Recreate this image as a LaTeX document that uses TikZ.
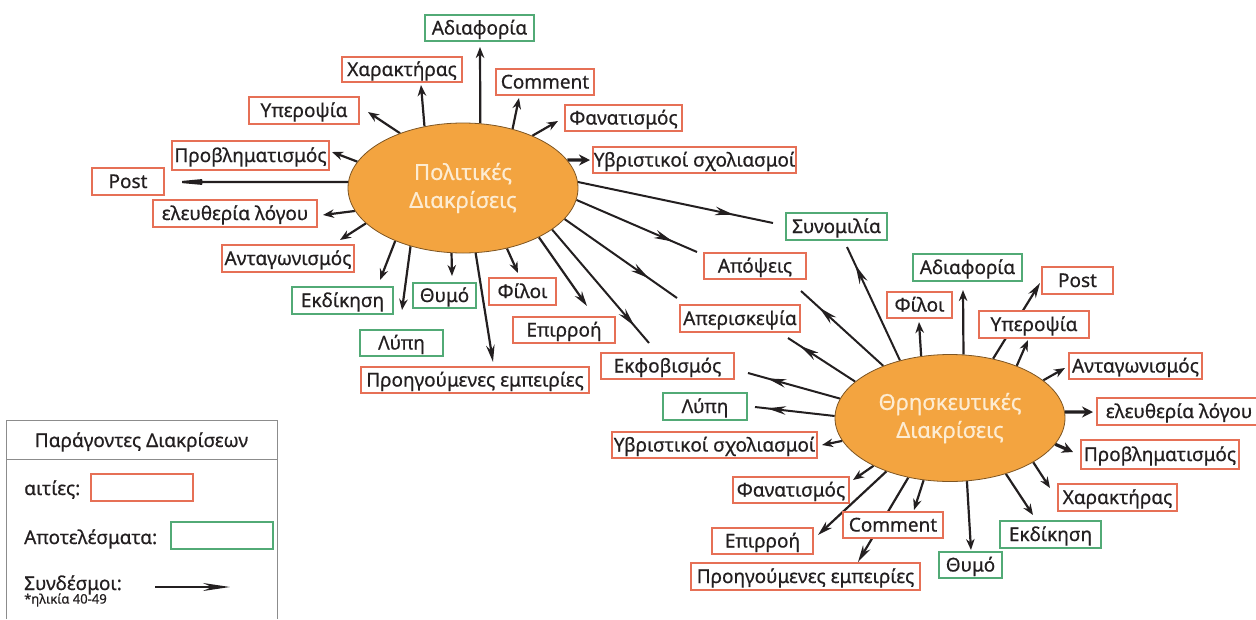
\documentclass[tikz,border=0pt]{standalone}
\usepackage{fontspec}
\setmainfont[FakeBold=0.6]{Noto Sans}
\usetikzlibrary{arrows.meta,shapes.geometric,decorations.markings}
\definecolor{boxred}{RGB}{230,112,86}
\definecolor{boxgreen}{RGB}{82,170,118}
\definecolor{blob}{RGB}{243,164,64}
\definecolor{blobline}{RGB}{125,85,35}
\definecolor{blobtext}{RGB}{253,236,210}
\definecolor{ink}{RGB}{35,31,32}
\definecolor{frame}{RGB}{140,140,140}
\pgfdeclarelayer{background}
\pgfsetlayers{background,main}
\tikzset{
  txt/.style={text=ink,inner sep=0pt,text height=16pt,text depth=3pt,font=\fontsize{19}{22}\selectfont},
  cause/.style={txt,draw=boxred,line width=1.2pt,fill=white},
  effect/.style={cause,draw=boxgreen},
  sz/.style 2 args={minimum width=#1pt,minimum height=#2pt},
  blobnode/.style={ellipse,draw=blobline,line width=0.8pt,fill=blob,text=blobtext,inner sep=0pt,
    minimum width=230pt,align=center,font=\fontsize{22}{28}\selectfont},
  link/.style={draw=ink,line width=2.2pt,-{Stealth[length=11pt,width=8.5pt]}},
  heavy/.style={draw=ink,line width=3.2pt,-{Stealth[length=11pt,width=11pt]}},
  longlink/.style={draw=ink,line width=2pt,postaction={decorate},
    decoration={markings,mark=at position #1 with {\arrow{Stealth[length=19pt,width=8.5pt]}}}},
}
\begin{document}
\begin{tikzpicture}[x=1pt,y=-1pt]
\useasboundingbox (0,0) rectangle (1256,619);

\node[blobnode,minimum height=130pt] (pol) at (463,188) {Πολιτικές\\Διακρίσεις};
\node[blobnode,minimum height=127pt] (rel) at (950,418) {Θρησκευτικές\\Διακρίσεις};

\node[effect,sz={109}{26}] (p-adiaf) at (479.5,28) {Αδιαφορία};
\node[cause,sz={120}{25}] (p-char) at (402,69.5) {Χαρακτήρας};
\node[cause,sz={98}{26}] (p-comm) at (545,82) {Comment};
\node[cause,sz={117}{26}] (p-fan) at (623.5,118) {Φανατισμός};
\node[cause,sz={203}{26}] (p-yvr) at (694.5,160) {Υβριστικοί σχολιασμοί};
\node[cause,sz={110}{27}] (p-yper) at (304,110.5) {Υπεροψία};
\node[cause,sz={157}{29}] (p-provl) at (250.5,155.5) {Προβληματισμός};
\node[cause,sz={72}{27}] (p-post) at (128,181.5) {Post};
\node[cause,sz={164}{27}] (p-eleu) at (235,213.5) {ελευθερία λόγου};
\node[cause,sz={132}{27}] (p-antag) at (288,258.5) {Ανταγωνισμός};
\node[effect,sz={101}{27}] (p-ekdik) at (342.5,300.5) {Εκδίκηση};
\node[effect,sz={63}{25}] (p-thymo) at (444.5,295.5) {Θυμό};
\node[cause,sz={67}{27}] (p-filoi) at (522.5,291.5) {Φίλοι};
\node[effect,sz={83}{26}] (p-lypi) at (401.5,343) {Λύπη};
\node[cause,sz={102}{26}] (p-epirr) at (564,330) {Επιρροή};
\node[cause,sz={228}{26}] (p-proig) at (475,380) {Προηγούμενες εμπειρίες};

\node[cause,sz={133}{26}] (ekfov) at (667.5,366) {Εκφοβισμός};
\node[cause,sz={120}{27}] (aperi) at (740,318.5) {Απερισκεψία};
\node[cause,sz={102}{26}] (apops) at (755,266) {Απόψεις};
\node[effect,sz={101}{27}] (synom) at (836.5,226.5) {Συνομιλία};

\node[effect,sz={109}{27}] (r-adiaf) at (967.5,267.5) {Αδιαφορία};
\node[cause,sz={65}{26}] (r-filoi) at (919.5,305) {Φίλοι};
\node[cause,sz={71}{27}] (r-post) at (1077.5,280.5) {Post};
\node[cause,sz={110}{27}] (r-yper) at (1034,324.5) {Υπεροψία};
\node[cause,sz={133}{26}] (r-antag) at (1135.5,366) {Ανταγωνισμός};
\node[cause,sz={164}{27}] (r-eleu) at (1179,411.5) {ελευθερία λόγου};
\node[cause,sz={158}{29}] (r-provl) at (1160,454.5) {Προβληματισμός};
\node[cause,sz={119}{27}] (r-char) at (1117.5,497.5) {Χαρακτήρας};
\node[effect,sz={101}{27}] (r-ekdik) at (1050.5,534.5) {Εκδίκηση};
\node[effect,sz={63}{26}] (r-thymo) at (970.5,565) {Θυμό};
\node[cause,sz={100}{26}] (r-comm) at (893,525) {Comment};
\node[cause,sz={229}{27}] (r-proig) at (805.5,576.5) {Προηγούμενες εμπειρίες};
\node[cause,sz={101}{26}] (r-epirr) at (762.5,541) {Επιρροή};
\node[cause,sz={116}{26}] (r-fan) at (791,490) {Φανατισμός};
\node[cause,sz={205}{26}] (r-yvr) at (714.5,445) {Υβριστικοί σχολιασμοί};
\node[effect,sz={84}{27}] (r-lypi) at (705,406.5) {Λύπη};

\foreach \n/\x/\y in {tp-adiaf/480/47, tp-char/421/85, tp-comm/519/98, tp-fan/558/121,
  tp-yvr/590/160, tp-yper/368/112, tp-provl/332/152, tp-post/170/182, tp-eleu/323/215,
  tp-antag/340/240, tp-ekdik/380/280, tp-lypi/402/310, tp-thymo/452/276, tp-proig/493/362,
  tp-filoi/518/273, tp-epirr/587/306, tp-ekfov/649/343, tp-aperi/677/298, tp-apops/697/252,
  tp-synom/773/223,
  tr-synom/847/247, tr-apops/801/291, tr-aperi/788/338, tr-ekfov/748/373, tr-lypi/755/407,
  tr-yvr/822/445, tr-fan/853/480, tr-epirr/818/535, tr-proig/858/562, tr-comm/914/510,
  tr-thymo/971/550, tr-ekdik/1033/515, tr-char/1050/488, tr-provl/1073/452, tr-eleu/1093/412,
  tr-antag/1065/368, tr-yper/1028/340, tr-post/1040/283, tr-adiaf/963/290, tr-filoi/919/322}
  \coordinate (\n) at (\x,\y);

\begin{pgfonlayer}{background}
\draw[link] (pol.75) -- (tp-adiaf);
\draw[link] (pol.122) -- (tp-char);
\draw[link] (pol.50) -- (tp-comm);
\draw[link] (pol.37) -- (tp-fan);
\draw[heavy] (pol.15) -- (tp-yvr);
\draw[link] (pol.139) -- (tp-yper);
\draw[link] (pol.166) -- (tp-provl);
\draw[link,-{Stealth[length=44pt,width=8pt]}] (pol.177.5) -- (tp-post);
\draw[link] (pol.-168) -- (tp-eleu);
\draw[link] (pol.-160) -- (tp-antag);
\draw[link] (pol.-142) -- (tp-ekdik);
\draw[link] (pol.-132) -- (tp-lypi);
\draw[link] (pol.-100) -- (tp-thymo);
\draw[link,-{Stealth[length=17pt,width=8.5pt]}] (pol.-79) -- (tp-proig);
\draw[link] (pol.-54) -- (tp-filoi);
\draw[link,-{Stealth[length=15pt,width=8.5pt]}] (pol.-33) -- (tp-epirr);
\draw[longlink=0.85] (pol.-25) -- (tp-ekfov);
\draw[longlink=0.75] (pol.-17) -- (tp-aperi);
\draw[longlink=0.8] (pol.-6) -- (tp-apops);
\draw[longlink=0.8] (pol.3) -- (tp-synom);

\draw[longlink=0.84] (rel.131.5) -- (tr-synom);
\draw[longlink=0.78] (rel.142.6) -- (tr-apops);
\draw[longlink=0.82] (rel.159.6) -- (tr-aperi);
\draw[longlink=0.79] (rel.170) -- (tr-ekfov);
\draw[longlink=0.85] (rel.179.5) -- (tr-lypi);
\draw[link] (rel.-168) -- (tr-yvr);
\draw[link] (rel.-148) -- (tr-fan);
\draw[link,-{Stealth[length=15pt,width=8.5pt]}] (rel.-140) -- (tr-epirr);
\draw[link,-{Stealth[length=17pt,width=8.5pt]}] (rel.-125) -- (tr-proig);
\draw[link] (rel.-113.5) -- (tr-comm);
\draw[link] (rel.-75.6) -- (tr-thymo);
\draw[link] (rel.-45.5) -- (tr-ekdik);
\draw[link] (rel.-28.7) -- (tr-char);
\draw[heavy] (rel.-14.2) -- (tr-provl);
\draw[heavy] (rel.3) -- (tr-eleu);
\draw[link] (rel.22.2) -- (tr-antag);
\draw[link] (rel.38.9) -- (tr-yper);
\draw[link,-{Stealth[length=15pt,width=8.5pt]}] (rel.54.8) -- (tr-post);
\draw[link] (rel.78.7) -- (tr-adiaf);
\draw[link] (rel.115.5) -- (tr-filoi);
\end{pgfonlayer}

\draw[frame,line width=1pt] (6,619) -- (6,420) -- (277,420) -- (277,619);
\draw[frame,line width=1pt] (6,459) -- (277,459);
\node[txt] (leg-title) at (141.5,440.5) {Παράγοντες Διακρίσεων};
\node[txt,anchor=west] (leg-cause) at (24,488.5) {αιτίες:};
\node[cause,sz={102}{27}] (leg-cbox) at (142,487.5) {};
\node[txt,anchor=west] (leg-effect) at (24,537.5) {Αποτελέσματα:};
\node[effect,sz={102}{27}] (leg-ebox) at (222,535.5) {};
\node[txt,anchor=west] (leg-link) at (24,583.5) {Συνδέσμοι:};
\draw[draw=ink,line width=1.8pt,-{Stealth[length=27pt,width=8pt]}] (155,587) -- (230,587);
\node[txt,anchor=west,text height=10pt,text depth=3pt,font=\fontsize{13}{15}\selectfont] (leg-age) at (24,600) {*ηλικία 40-49};
\end{tikzpicture}
\end{document}
